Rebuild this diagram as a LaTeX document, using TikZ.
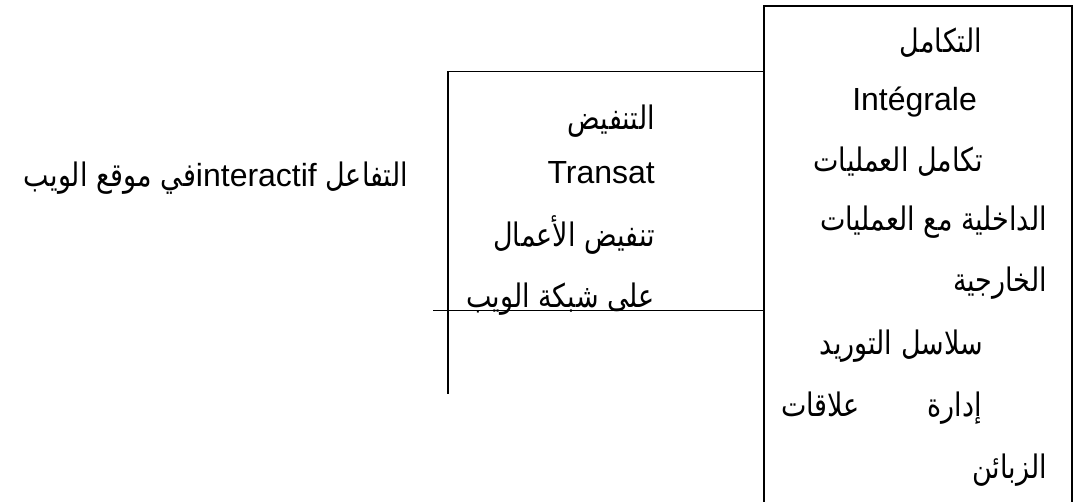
\documentclass[tikz,border=0pt]{standalone}
\usepackage{graphicx}
\usepackage{fontspec}
\setmainfont{Liberation Sans}
\newfontfamily\arabicfont[Script=Arabic]{DejaVu Sans}
\newfontfamily\latinfont{Liberation Sans}
\TeXXeTstate=1
\newcommand{\artxt}[1]{\scalebox{1}[1.2]{\fontsize{27}{30}\selectfont\arabicfont\beginR #1\endR}}
\newcommand{\lattxt}[1]{\scalebox{1}[0.8333]{\latinfont\fontsize{32}{36}\selectfont #1}}
\begin{document}
\begin{tikzpicture}[x=1pt,y=-1pt,
  txt/.style={inner sep=0pt,anchor=base east,font=\fontsize{32}{36}\selectfont},
  thickline/.style={line width=2pt,line cap=rect},
  thinline/.style={line width=1pt}]
\useasboundingbox (0,0) rectangle (1076,502);
% outer (right) box
\coordinate (rb1) at (764,502);
\coordinate (rb2) at (764,6);
\coordinate (rb3) at (1072,6);
\coordinate (rb4) at (1072,502);
\draw[thickline] (rb1) -- (rb2) -- (rb3) -- (rb4);
% middle box
\coordinate (mb1) at (448,393);
\coordinate (mb2) at (448,72);
\coordinate (mb3) at (764,72);
\coordinate (hl1) at (433,311);
\coordinate (hl2) at (764,311);
\draw[thickline] (mb1) -- (mb2);
\draw[thinline] (mb2) -- (mb3);
\draw[thinline] (hl1) -- (hl2);
% right box texts
\node[txt] (r1) at (982,53) {\artxt{التكامل}};
\node[txt] (r2) at (977,111) {Intégrale};
\node[txt] (r3) at (983,172) {\artxt{تكامل العمليات}};
\node[txt] (r4) at (1047,231) {\artxt{الداخلية مع العمليات}};
\node[txt] (r5) at (1047,292) {\artxt{الخارجية}};
\node[txt] (r6) at (983,355) {\artxt{سلاسل التوريد}};
\node[txt] (r7a) at (982,416) {\artxt{إدارة}};
\node[txt] (r7b) at (860,416) {\artxt{علاقات}};
\node[txt] (r8) at (1047,478) {\artxt{الزبائن}};
% middle box texts
\node[txt] (m1) at (655,130) {\artxt{التنفيض}};
\node[txt] (m2) at (655,184) {Transat};
\node[txt] (m3) at (655,247) {\artxt{تنفيض الأعمال}};
\node[txt] (m4) at (655,308) {\artxt{على شبكة الويب}};
% left text
\node[txt] (l1) at (408,187) {\artxt{التفاعل \beginL\lattxt{interactif}\endL{}في موقع الويب}};
\end{tikzpicture}
\end{document}
